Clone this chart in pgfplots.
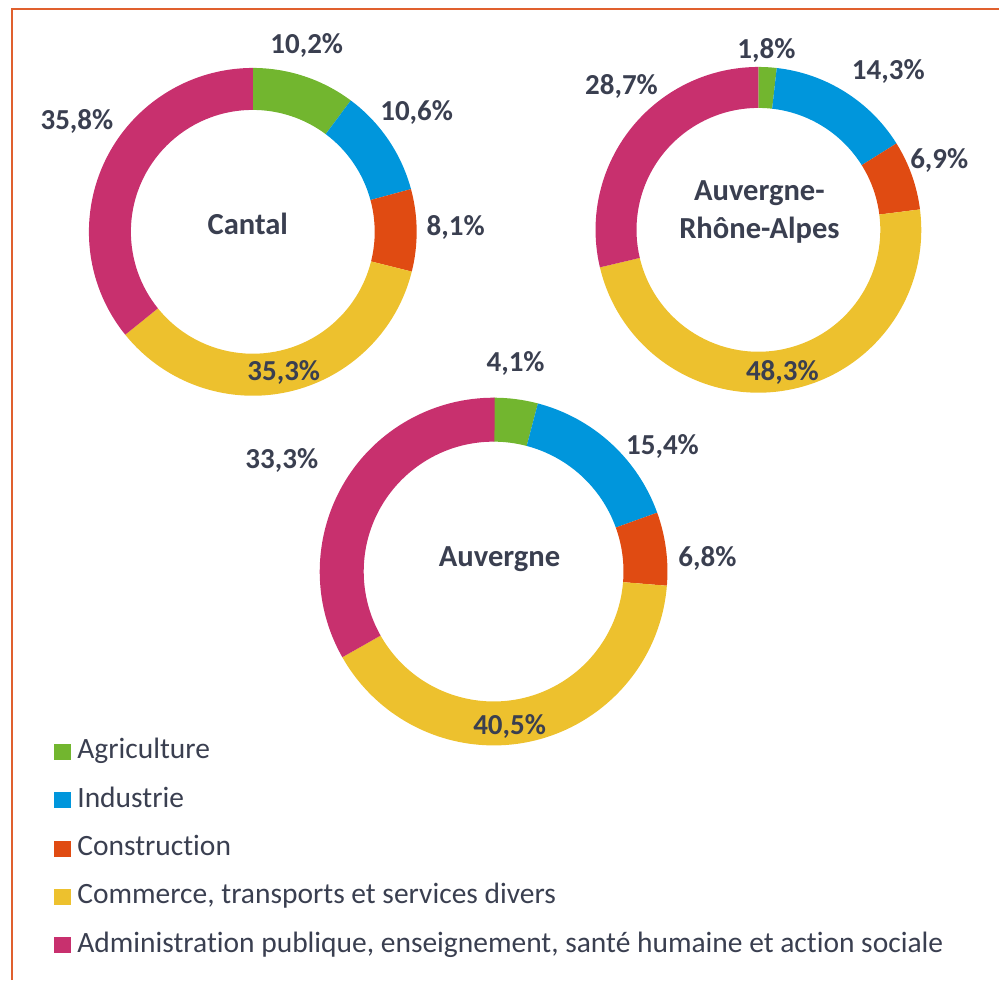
\documentclass[border=0pt]{standalone}
\usepackage{fontspec}
\setmainfont{Carlito}[Ligatures=NoCommon]
\usepackage{pgfplots}
\pgfplotsset{compat=1.18}
\usetikzlibrary{calc}

\definecolor{agri}{HTML}{72B62F}
\definecolor{indu}{HTML}{0096DC}
\definecolor{cons}{HTML}{E04B12}
\definecolor{comm}{HTML}{EDC12E}
\definecolor{admi}{HTML}{C8306E}
\definecolor{txt}{HTML}{3A3F50}
\definecolor{frame}{HTML}{E0602E}

\tikzset{lab/.style={text=txt, font=\bfseries\fontsize{14.5}{17}\selectfont, inner sep=0pt},
         big/.style={lab, font=\bfseries\fontsize{15.3}{18}\selectfont}}

% donut: centre x, centre y, outer radius, inner radius (pixels), value/colour list
\newcommand\donut[5]{%
  \xdef\sa{90}%
  \foreach \v/\c in {#5}{%
    \pgfmathsetmacro\ea{\sa-3.6*\v}%
    \edef\temp{\noexpand\fill[\c] (axis cs:#1,#2) ++(\sa:#3*0.5pt)
      arc[start angle=\sa,end angle=\ea,radius=#3*0.5pt]
      -- ($(axis cs:#1,#2)+(\ea:#4*0.5pt)$)
      arc[start angle=\ea,end angle=\sa,radius=#4*0.5pt] -- cycle;}%
    \temp
    \xdef\sa{\ea}%
  }}

\begin{document}
\begin{tikzpicture}
\begin{axis}[
    scale only axis,
    width=500pt, height=490.5pt,
    xmin=0, xmax=1000, ymin=0, ymax=981,
    y dir=reverse,
    hide axis,
    clip=false,
    legend style={at={(axis cs:48,735)}, anchor=north west, draw=none, fill=none,
        font=\fontsize{14.75}{16}\selectfont\color{txt}, row sep=11.2pt,
        nodes={inner sep=0pt, inner xsep=0pt, text height=10pt, text depth=3pt},
        /tikz/every odd column/.append style={column sep=3.5pt}},
    legend cell align=left,
    legend image code/.code={\fill[#1] (0pt,-3.8pt) rectangle (7.6pt,3.8pt);},
]
\path (axis cs:0,0) rectangle (axis cs:1000,981);
\draw[frame, line width=0.8pt] (axis cs:12,981) -- (axis cs:12,9) -- (axis cs:1000,9);

% Cantal
\donut{253}{232}{164}{122}{10.2/agri,10.6/indu,8.1/cons,35.3/comm,35.8/admi}
% Auvergne-Rhone-Alpes
\donut{759}{230}{163}{122}{1.8/agri,14.3/indu,6.9/cons,48.3/comm,28.7/admi}
% Auvergne
\donut{494}{572}{174}{130}{4.1/agri,15.4/indu,6.8/cons,40.5/comm,33.3/admi}

\node[big] at (axis cs:248,224) {Cantal};
\node[big, align=center] at (axis cs:760,212) {Auvergne-\\[1pt]Rhône-Alpes};
\node[big] at (axis cs:500,560) {Auvergne};

\node[lab] at (axis cs:307,45) {10,2\%};
\node[lab] at (axis cs:417,113) {10,6\%};
\node[lab] at (axis cs:456,228) {8,1\%};
\node[lab] at (axis cs:284,373) {35,3\%};
\node[lab] at (axis cs:77,122) {35,8\%};

\node[lab] at (axis cs:767,50) {1,8\%};
\node[lab] at (axis cs:889,72) {14,3\%};
\node[lab] at (axis cs:940,161) {6,9\%};
\node[lab] at (axis cs:783,373) {48,3\%};
\node[lab] at (axis cs:622,87) {28,7\%};

\node[lab] at (axis cs:516,364) {4,1\%};
\node[lab] at (axis cs:663,447) {15,4\%};
\node[lab] at (axis cs:708,559) {6,8\%};
\node[lab] at (axis cs:510,727) {40,5\%};
\node[lab] at (axis cs:282,461) {33,3\%};

\addlegendimage{agri}\addlegendentry{Agriculture}
\addlegendimage{indu}\addlegendentry{Industrie}
\addlegendimage{cons}\addlegendentry{Construction}
\addlegendimage{comm}\addlegendentry{Commerce, transports et services divers}
\addlegendimage{admi}\addlegendentry{Administration publique, enseignement, santé humaine et action sociale}
\end{axis}
\end{tikzpicture}
\end{document}
